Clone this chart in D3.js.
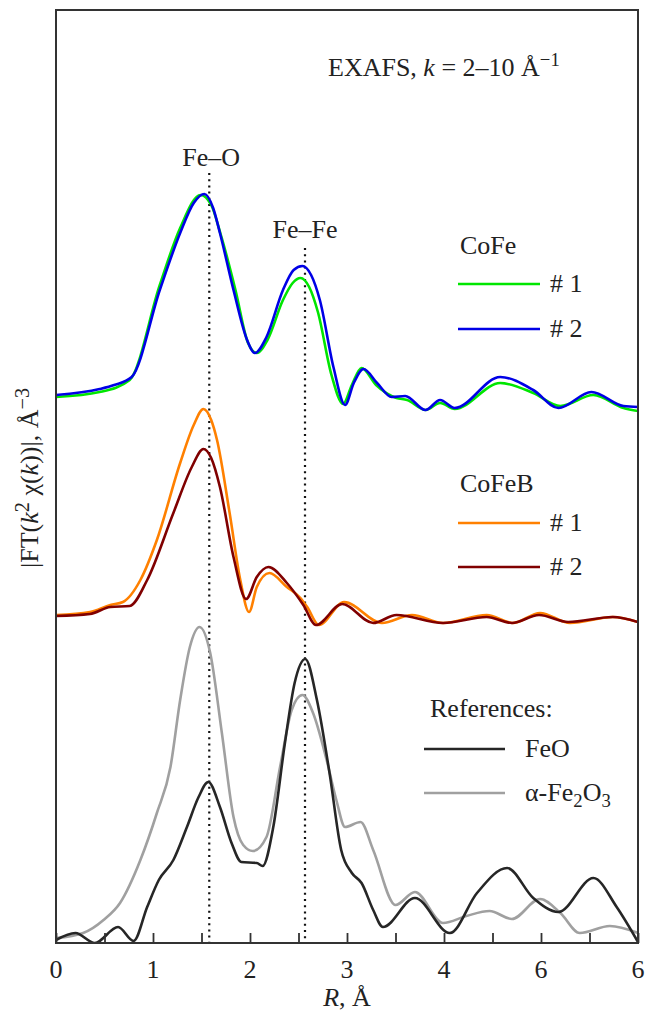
<!DOCTYPE html>
<html>
<head>
<meta charset="utf-8">
<script src="https://cdn.jsdelivr.net/npm/d3@7"></script>
<style>
  html, body { margin: 0; padding: 0; background: #fff; }
  text { font-family: "Liberation Serif", "Times New Roman", serif; fill: #222; }
</style>
</head>
<body>
<svg id="chart" width="654" height="1012"></svg>
<script>
// ---------- data (R in Å, |FT| in arbitrary units incl. vertical offsets) ----------
const xTickValues = [0, 1, 2, 3, 4, 5, 6];
const xTickLabels = ["0", "1", "2", "3", "4", "6", "6"];
const minorTicks = [0.5, 1.5, 2.5, 3.5, 4.5, 5.5];
const peakLines = [{ r: 1.58, label: "Fe–O", top: 7.7 }, { r: 2.567, label: "Fe–Fe", top: 6.95 }];

const rCoFe1 = [0, 0.45, 0.76, 1.07, 1.28, 1.49, 1.6, 1.7, 1.85, 1.98, 2.07, 2.18, 2.34, 2.44, 2.52, 2.61, 2.7, 2.84, 2.96, 3.05, 3.15, 3.3, 3.51, 3.62, 3.81, 3.96, 4.11, 4.58, 4.92, 5.2, 5.54, 5.85, 6.0];
const CoFe1  = [5.46, 5.51, 5.63, 6.58, 7.15, 7.48, 7.38, 7.08, 6.53, 6.00, 5.90, 6.03, 6.43, 6.60, 6.65, 6.56, 6.31, 5.68, 5.39, 5.58, 5.75, 5.58, 5.45, 5.43, 5.33, 5.40, 5.34, 5.60, 5.50, 5.37, 5.48, 5.35, 5.32];

const rCoFe2 = [0, 0.45, 0.6, 0.78, 1.07, 1.28, 1.42, 1.53, 1.62, 1.69, 1.83, 1.97, 2.05, 2.17, 2.34, 2.45, 2.54, 2.63, 2.72, 2.86, 2.98, 3.07, 3.17, 3.31, 3.46, 3.6, 3.81, 3.96, 4.11, 4.58, 4.92, 5.18, 5.52, 5.85, 6.0];
const CoFe2  = [5.48, 5.54, 5.58, 5.66, 6.53, 7.10, 7.40, 7.49, 7.35, 7.10, 6.53, 6.03, 5.90, 6.06, 6.53, 6.73, 6.77, 6.68, 6.43, 5.76, 5.38, 5.60, 5.74, 5.60, 5.46, 5.47, 5.33, 5.43, 5.35, 5.66, 5.53, 5.35, 5.51, 5.37, 5.36];

const rCoFeB1 = [0, 0.35, 0.56, 0.69, 0.87, 1.04, 1.28, 1.42, 1.52, 1.6, 1.66, 1.79, 1.9, 1.99, 2.07, 2.2, 2.38, 2.52, 2.59, 2.71, 2.97, 3.36, 3.67, 3.99, 4.44, 4.71, 4.99, 5.3, 5.74, 6.0];
const CoFeB1  = [3.28, 3.31, 3.38, 3.41, 3.63, 4.03, 4.80, 5.18, 5.34, 5.23, 5.03, 4.30, 3.63, 3.31, 3.56, 3.70, 3.56, 3.45, 3.36, 3.18, 3.41, 3.20, 3.28, 3.20, 3.28, 3.20, 3.30, 3.20, 3.26, 3.21];

const rCoFeB2 = [0, 0.35, 0.56, 0.76, 0.94, 1.21, 1.4, 1.52, 1.6, 1.69, 1.83, 1.96, 2.07, 2.19, 2.38, 2.55, 2.68, 2.95, 3.27, 3.51, 3.99, 4.44, 4.7, 4.98, 5.28, 5.74, 6.0];
const CoFeB2  = [3.27, 3.29, 3.36, 3.37, 3.63, 4.30, 4.76, 4.94, 4.85, 4.56, 3.86, 3.44, 3.66, 3.76, 3.60, 3.38, 3.18, 3.39, 3.20, 3.28, 3.20, 3.26, 3.20, 3.28, 3.21, 3.26, 3.21];

const rFeO = [0, 0.2, 0.4, 0.64, 0.8, 0.94, 1.06, 1.21, 1.35, 1.47, 1.57, 1.69, 1.81, 1.91, 2.07, 2.13, 2.24, 2.36, 2.46, 2.57, 2.69, 2.82, 2.94, 3.05, 3.15, 3.27, 3.37, 3.7, 4.06, 4.34, 4.65, 4.92, 5.18, 5.54, 5.78, 6.0];
const FeO  = [0.03, 0.10, 0.0, 0.16, 0.02, 0.36, 0.63, 0.83, 1.16, 1.46, 1.61, 1.36, 1.00, 0.81, 0.80, 0.77, 1.16, 2.00, 2.60, 2.84, 2.43, 1.70, 0.93, 0.70, 0.60, 0.33, 0.16, 0.45, 0.10, 0.50, 0.75, 0.45, 0.31, 0.65, 0.36, 0.01];

const rFe2O3 = [0, 0.28, 0.49, 0.66, 0.87, 1.04, 1.18, 1.28, 1.38, 1.48, 1.59, 1.71, 1.83, 1.93, 2.03, 2.17, 2.31, 2.43, 2.54, 2.65, 2.79, 2.89, 2.98, 3.14, 3.27, 3.5, 3.7, 3.99, 4.23, 4.47, 4.7, 4.99, 5.2, 5.4, 5.71, 6.0];
const Fe2O3  = [0.05, 0.10, 0.23, 0.40, 0.83, 1.30, 1.76, 2.43, 2.96, 3.16, 2.90, 2.10, 1.26, 0.98, 0.92, 1.06, 1.76, 2.33, 2.48, 2.30, 1.83, 1.43, 1.16, 1.21, 0.93, 0.38, 0.51, 0.20, 0.27, 0.32, 0.24, 0.44, 0.30, 0.10, 0.17, 0.10];

const series = [
  { name: "CoFeB #1", r: rCoFeB1, v: CoFeB1, color: "#ff8000" },
  { name: "CoFeB #2", r: rCoFeB2, v: CoFeB2, color: "#800000" },
  { name: "CoFe #1",  r: rCoFe1,  v: CoFe1,  color: "#00e600" },
  { name: "CoFe #2",  r: rCoFe2,  v: CoFe2,  color: "#0000e6" },
  { name: "α-Fe2O3",  r: rFe2O3,  v: Fe2O3,  color: "#a0a0a0" },
  { name: "FeO",      r: rFeO,    v: FeO,    color: "#262626" }
];

// ---------- layout ----------
const svg = d3.select("#chart");
const L = 56, R = 638, T = 10, B = 943;
const x = d3.scaleLinear().domain([0, 6]).range([L, R]);
const y = d3.scaleLinear().domain([0, 9.33]).range([B, T]);
const FS = 26;

const clip = svg.append("clipPath").attr("id", "clip")
  .append("rect").attr("x", L).attr("y", T).attr("width", R - L).attr("height", B - T);

// dotted guide lines
peakLines.forEach(p => {
  svg.append("line")
    .attr("x1", x(p.r)).attr("x2", x(p.r))
    .attr("y1", y(p.top)).attr("y2", B)
    .attr("stroke", "#111").attr("stroke-width", 2.2)
    .attr("stroke-dasharray", "2,4.2");
});
svg.append("text").attr("x", x(peakLines[0].r) + 2).attr("y", 166)
  .attr("text-anchor", "middle").attr("font-size", FS).text(peakLines[0].label);
svg.append("text").attr("x", x(peakLines[1].r)).attr("y", 238)
  .attr("text-anchor", "middle").attr("font-size", FS).text(peakLines[1].label);

// curves
const line = d3.line().curve(d3.curveMonotoneX);
const g = svg.append("g").attr("clip-path", "url(#clip)");
series.forEach(s => {
  const pts = s.r.map((r, i) => [x(r), y(s.v[i])]);
  g.append("path").attr("d", line(pts))
    .attr("fill", "none").attr("stroke", s.color)
    .attr("stroke-width", 2.6).attr("stroke-linejoin", "round");
});

// frame
svg.append("rect").attr("x", L).attr("y", T).attr("width", R - L).attr("height", B - T)
  .attr("fill", "none").attr("stroke", "#333").attr("stroke-width", 2);

// x axis ticks (inward)
const xAxis = d3.axisBottom(x).tickValues(xTickValues.concat(minorTicks))
  .tickSize(-10).tickFormat("");
const ax = svg.append("g").attr("transform", `translate(0,${B})`).call(xAxis);
ax.select(".domain").remove();
ax.selectAll(".tick line").attr("stroke", "#333").attr("stroke-width", 1.8);

xTickValues.forEach((v, i) => {
  svg.append("text").attr("x", x(v)).attr("y", 978)
    .attr("text-anchor", "middle").attr("font-size", FS).text(xTickLabels[i]);
});
const xl = svg.append("text").attr("x", x(3)).attr("y", 1006)
  .attr("text-anchor", "middle").attr("font-size", FS);
xl.append("tspan").attr("font-style", "italic").text("R");
xl.append("tspan").text(", Å");

// y label
const yl = svg.append("text").attr("transform", "translate(38,478) rotate(-90)")
  .attr("text-anchor", "middle").attr("font-size", FS);
yl.append("tspan").text("|FT(");
yl.append("tspan").attr("font-style", "italic").text("k");
yl.append("tspan").attr("font-size", FS * 0.78).attr("dy", -9).text("2");
yl.append("tspan").attr("dy", 9).text(" χ(");
yl.append("tspan").attr("font-style", "italic").text("k");
yl.append("tspan").text("))|, Å");
yl.append("tspan").attr("font-size", FS * 0.78).attr("dy", -9).text("−3");

// title
const tt = svg.append("text").attr("x", 328).attr("y", 76).attr("font-size", FS);
tt.append("tspan").text("EXAFS, ");
tt.append("tspan").attr("font-style", "italic").text("k");
tt.append("tspan").text(" = 2–10 Å");
tt.append("tspan").attr("font-size", FS * 0.72).attr("dy", -10).text("−1");

// legends
const legends = [
  { title: "CoFe", tx: 460, ty: 254, items: [
      { label: "# 1", color: "#00e600", y: 284 }, { label: "# 2", color: "#0000e6", y: 329 }], lx1: 458, lx2: 540, textX: 550 },
  { title: "CoFeB", tx: 460, ty: 492, items: [
      { label: "# 1", color: "#ff8000", y: 523 }, { label: "# 2", color: "#800000", y: 567 }], lx1: 458, lx2: 540, textX: 550 },
  { title: "References:", tx: 430, ty: 717, items: [
      { label: "FeO", color: "#262626", y: 749 }, { label: "α-Fe2O3", color: "#a0a0a0", y: 793 }], lx1: 424, lx2: 505, textX: 525 }
];
legends.forEach(lg => {
  svg.append("text").attr("x", lg.tx).attr("y", lg.ty).attr("font-size", FS).text(lg.title);
  lg.items.forEach(it => {
    svg.append("line").attr("x1", lg.lx1).attr("x2", lg.lx2).attr("y1", it.y).attr("y2", it.y)
      .attr("stroke", it.color).attr("stroke-width", 2.6);
    const t = svg.append("text").attr("x", lg.textX).attr("y", it.y + 8).attr("font-size", FS);
    if (it.label === "α-Fe2O3") {
      t.append("tspan").text("α-Fe");
      t.append("tspan").attr("font-size", FS * 0.72).attr("dy", 6).text("2");
      t.append("tspan").attr("dy", -6).text("O");
      t.append("tspan").attr("font-size", FS * 0.72).attr("dy", 6).text("3");
    } else {
      t.text(it.label);
    }
  });
});
</script>
</body>
</html>
